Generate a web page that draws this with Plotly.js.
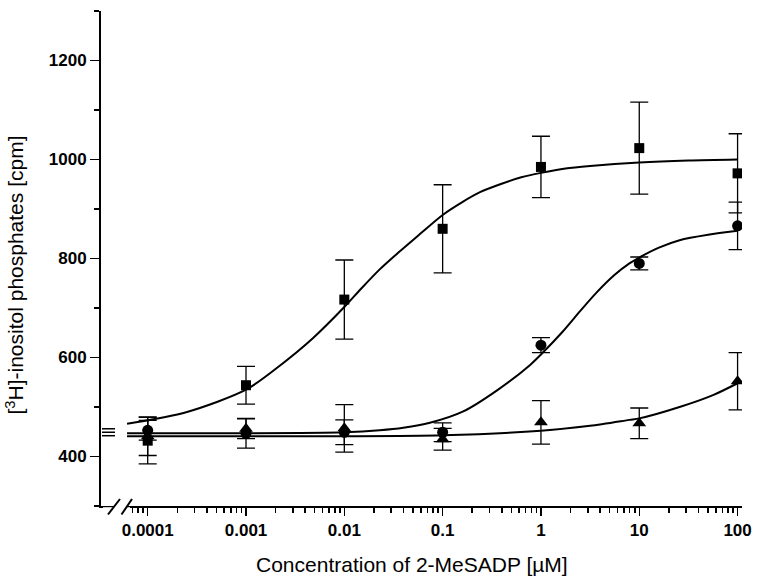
<!DOCTYPE html>
<html><head><meta charset="utf-8">
<script src="https://cdn.plot.ly/plotly-3.0.1.min.js"></script>
<style>html,body{margin:0;padding:0;background:#fff}#chart{width:762px;height:584px}</style>
</head><body><div id="chart"></div>
<script>
// ---- data ----
const concentrations = [0.0001, 0.001, 0.01, 0.1, 1, 10, 100];
const tickLabels = ['0.0001', '0.001', '0.01', '0.1', '1', '10', '100'];

const squareMean = [432, 544, 717, 860, 985, 1023, 972];
const squareErr  = [47, 38, 80, 89, 62, 93, 80];
const circleMean = [453, 447, 449, 449, 625, 790, 866];
const circleErr  = [20, 30, 25, 19, 15, 13, 48];
const triangleMean = [441, 456, 457, 435, 469, 467, 552];
const triangleErr  = [39, 20, 48, 22, 44, 31, 58];

// fitted curves, read point by point (log10 concentration, cpm)
const squareFitLogX = [-4.21, -3.6, -3.0, -2.66, -2.32, -2.0, -1.82, -1.64, -1.45, -1.25, -1.0, -0.8, -0.62, -0.4, -0.2, 0, 0.25, 0.5, 1, 1.5, 2];
const squareFitY    = [466, 490, 535, 583, 639, 702, 741, 778, 812, 846, 888, 914, 934, 951, 964, 973, 982, 987, 994, 998, 1000];
const circleFitLogX = [-4.21, -3, -2, -1.64, -1.4, -1.13, -0.79, -0.45, -0.11, 0, 0.22, 0.4, 0.56, 0.75, 0.9, 1, 1.2, 1.41, 1.7, 2];
const circleFitY    = [447, 447, 449, 453, 458, 468, 491, 533, 585, 606, 652, 694, 730, 767, 790, 802, 822, 837, 848, 856];
const triangleFitLogX = [-4.21, -2, -1, 0, 0.5, 0.9, 1, 1.41, 1.75, 2];
const triangleFitY    = [441, 441, 443, 452, 462, 474, 477, 500, 524, 548];

// baseline levels marked at the axis break
const breakLevels = [456, 449, 442];

// ---- helpers ----
const toConc = a => a.map(v => Math.pow(10, v));
const L = 101, R = 742, T = 11, B = 506;
const px = x => (x - L) / (R - L);
const py = y => (B - y) / (B - T);

const minorVals = [];
for (let d = -5; d <= 2; d++) for (let m = 2; m <= 9; m++) minorVals.push(m * Math.pow(10, d));

const errStyle = arr => ({type: 'data', array: arr, visible: true, color: '#000', thickness: 1.3, width: 9});
const lineStyle = {color: '#000', width: 2, shape: 'spline', smoothing: 0.8};

const traces = [
  {x: toConc(squareFitLogX), y: squareFitY, mode: 'lines', line: lineStyle, hoverinfo: 'skip'},
  {x: toConc(circleFitLogX), y: circleFitY, mode: 'lines', line: lineStyle, hoverinfo: 'skip'},
  {x: toConc(triangleFitLogX), y: triangleFitY, mode: 'lines', line: lineStyle, hoverinfo: 'skip'},
  {x: concentrations, y: squareMean, mode: 'markers', error_y: errStyle(squareErr),
   marker: {symbol: 'square', size: 10, color: '#000'}},
  {x: concentrations, y: circleMean, mode: 'markers', error_y: errStyle(circleErr),
   marker: {symbol: 'circle', size: 11, color: '#000'}},
  {x: concentrations, y: triangleMean, mode: 'markers', error_y: errStyle(triangleErr),
   marker: {symbol: 'triangle-up', size: 12, color: '#000'}}
];

const shapes = [];
// masks for the x-axis break
shapes.push({type: 'rect', xref: 'paper', yref: 'paper', x0: px(114), x1: px(126), y0: py(517), y1: py(502),
             fillcolor: '#fff', line: {width: 0}, layer: 'above'});
shapes.push({type: 'rect', xref: 'paper', yref: 'paper', x0: px(103), x1: px(130), y0: py(518), y1: py(507.2),
             fillcolor: '#fff', line: {width: 0}, layer: 'above'});
// slashes
shapes.push({type: 'line', xref: 'paper', yref: 'paper', x0: px(108), y0: py(514.5), x1: px(120), y1: py(499),
             line: {color: '#000', width: 2}, layer: 'above'});
shapes.push({type: 'line', xref: 'paper', yref: 'paper', x0: px(121.5), y0: py(514.5), x1: px(132), y1: py(499),
             line: {color: '#000', width: 2}, layer: 'above'});
// baseline dashes at the break
breakLevels.forEach(v => shapes.push({type: 'line', xref: 'paper', yref: 'y', x0: px(102), x1: px(115), y0: v, y1: v,
             line: {color: '#000', width: 1.5}, layer: 'above'}));

const fontFam = '"Liberation Sans", Arial, sans-serif';
const tickFont = {family: fontFam, size: 17, color: '#000', weight: 'bold'};

const layout = {
  width: 762, height: 584,
  margin: {l: L, r: 762 - R, t: T, b: 584 - B, pad: 0},
  paper_bgcolor: '#fff', plot_bgcolor: '#fff',
  showlegend: false,
  font: {family: fontFam, color: '#000', size: 17},
  xaxis: {
    type: 'log', range: [-4.475, 2.045],
    tickmode: 'array', tickvals: concentrations, ticktext: tickLabels,
    ticks: 'outside', ticklen: 8, tickwidth: 1.5, tickcolor: '#000',
    minor: {tickmode: 'array', tickvals: minorVals, ticks: 'outside', ticklen: 4.5, tickwidth: 1.5, tickcolor: '#000', showgrid: false},
    showline: true, linewidth: 2, linecolor: '#000',
    showgrid: false, zeroline: false,
    tickfont: tickFont
  },
  yaxis: {
    range: [300, 1300], tick0: 0, dtick: 200,
    ticks: 'outside', ticklen: 9, tickwidth: 1.5, tickcolor: '#000',
    minor: {dtick: 100, ticks: 'outside', ticklen: 5, tickwidth: 1.5, tickcolor: '#000', showgrid: false},
    showline: true, linewidth: 2, linecolor: '#000',
    showgrid: false, zeroline: false,
    tickfont: tickFont
  },
  shapes: shapes,
  annotations: [
    {text: 'Concentration of 2-MeSADP [µM]', xref: 'paper', yref: 'paper',
     x: px(411.5), y: py(564), xanchor: 'center', yanchor: 'middle', showarrow: false,
     font: {family: fontFam, size: 21, color: '#000'}},
    {text: '[<sup>3</sup>H]-inositol phosphates [cpm]', xref: 'paper', yref: 'paper',
     x: px(14), y: py(274.5), xanchor: 'center', yanchor: 'middle', textangle: -90, showarrow: false,
     font: {family: fontFam, size: 21, color: '#000'}}
  ]
};

Plotly.newPlot('chart', traces, layout, {displayModeBar: false, staticPlot: true});
</script>
</body></html>
